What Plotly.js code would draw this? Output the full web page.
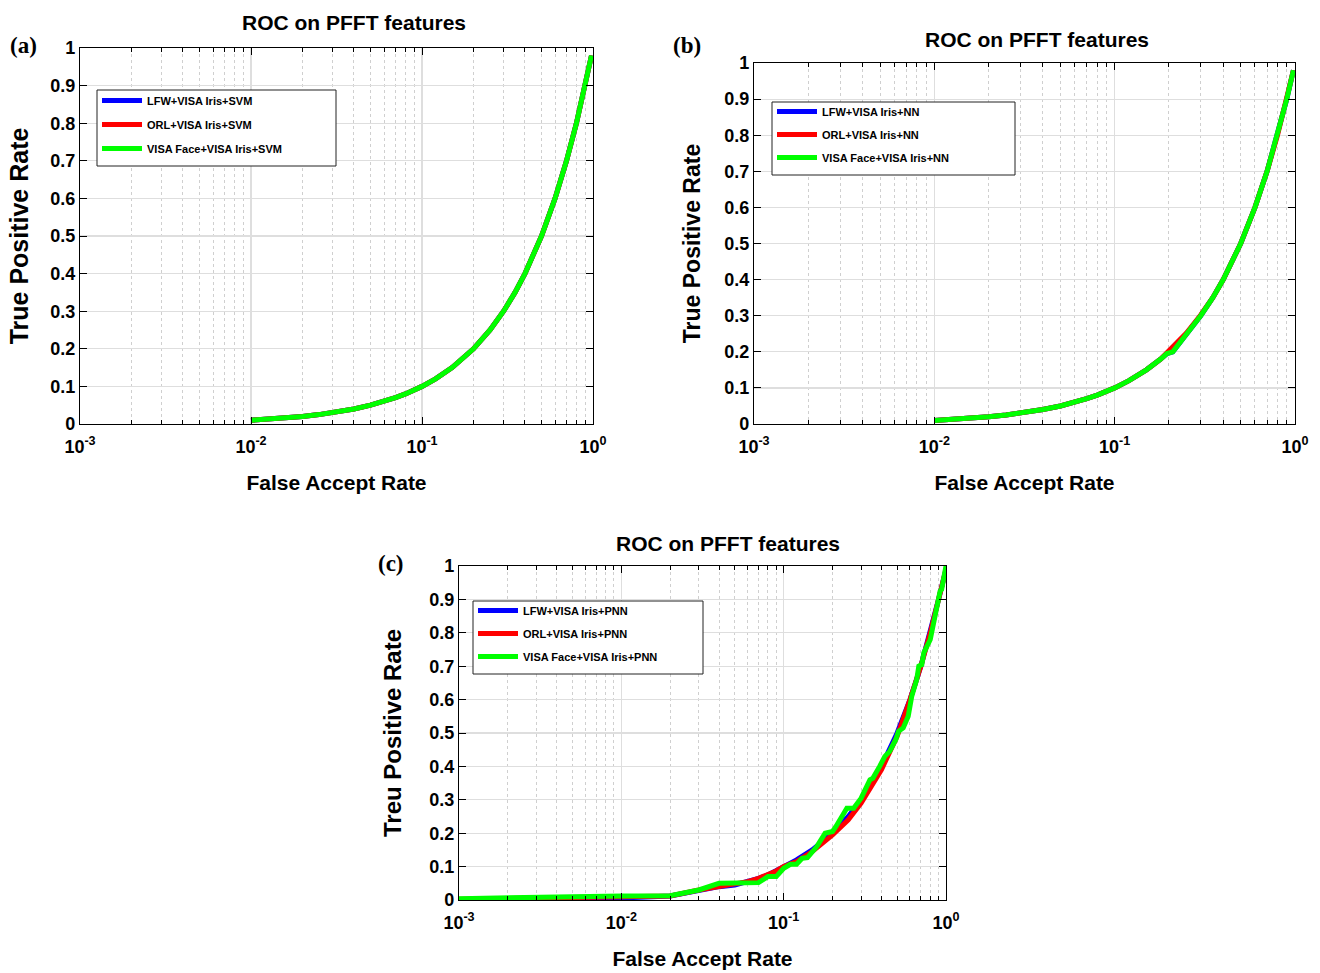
<!DOCTYPE html>
<html><head><meta charset="utf-8">
<script src="https://cdn.plot.ly/plotly-3.0.1.min.js"></script>
<style>html,body{margin:0;padding:0;background:#fff}#chart{width:1320px;height:973px}</style>
</head><body><div id="chart"></div>
<script>
// ---------- DATA ----------
const seriesColors = ['#0000ff', '#ff0000', '#00ff00'];
const namesA = ['LFW+VISA Iris+SVM', 'ORL+VISA Iris+SVM', 'VISA Face+VISA Iris+SVM'];
const namesB = ['LFW+VISA Iris+NN', 'ORL+VISA Iris+NN', 'VISA Face+VISA Iris+NN'];
const namesC = ['LFW+VISA Iris+PNN', 'ORL+VISA Iris+PNN', 'VISA Face+VISA Iris+PNN'];
const xTickVals = [0.001, 0.01, 0.1, 1];
const xTickText = ['10<sup>-3</sup>', '10<sup>-2</sup>', '10<sup>-1</sup>', '10<sup>0</sup>'];

// Panel (a) SVM
const farA = [0.01,0.013,0.016,0.02,0.025,0.03,0.04,0.05,0.06,0.07,0.08,0.09,0.1,0.12,0.15,0.2,0.25,0.3,0.35,0.4,0.5,0.6,0.7,0.8,0.9,0.98];
const tprA_lfw  = [0.01,0.013,0.016,0.02,0.025,0.03,0.04,0.05,0.06,0.07,0.08,0.09,0.1,0.12,0.15,0.2,0.25,0.3,0.35,0.4,0.5,0.6,0.7,0.8,0.9,0.98];
const tprA_orl  = [0.01,0.013,0.016,0.02,0.025,0.03,0.04,0.05,0.06,0.07,0.08,0.09,0.1,0.12,0.15,0.2,0.25,0.3,0.35,0.4,0.5,0.6,0.7,0.8,0.9,0.98];
const tprA_visa = [0.01,0.013,0.016,0.02,0.025,0.03,0.04,0.05,0.06,0.07,0.08,0.09,0.1,0.12,0.15,0.2,0.25,0.3,0.35,0.4,0.5,0.6,0.7,0.8,0.9,0.98];

// Panel (b) NN
const farB = [0.01,0.013,0.016,0.02,0.025,0.03,0.04,0.05,0.06,0.07,0.08,0.09,0.1,0.12,0.15,0.18,0.195,0.21,0.23,0.25,0.3,0.35,0.4,0.5,0.6,0.7,0.8,0.9,0.98];
const tprB_lfw  = [0.01,0.013,0.016,0.02,0.025,0.03,0.04,0.05,0.06,0.07,0.08,0.09,0.1,0.12,0.15,0.18,0.195,0.2,0.225,0.25,0.3,0.35,0.4,0.5,0.6,0.7,0.8,0.9,0.98];
const tprB_orl  = [0.01,0.013,0.016,0.02,0.025,0.03,0.04,0.05,0.06,0.07,0.08,0.09,0.1,0.12,0.15,0.18,0.197,0.212,0.233,0.252,0.302,0.35,0.4,0.5,0.6,0.7,0.8,0.9,0.98];
const tprB_visa = [0.01,0.013,0.016,0.02,0.025,0.03,0.04,0.05,0.06,0.07,0.08,0.09,0.1,0.12,0.15,0.18,0.195,0.2,0.225,0.25,0.3,0.35,0.4,0.5,0.6,0.7,0.8,0.9,0.98];

// Panel (c) PNN
const farC_smooth = [0.001,0.002,0.005,0.01,0.02,0.03,0.04,0.05,0.06,0.07,0.08,0.09,0.1,0.12,0.15,0.2,0.25,0.3,0.4,0.5,0.6,0.7,0.8,0.9,1.0];
const tprC_lfw = [0.001,0.002,0.004,0.006,0.012,0.03,0.04,0.045,0.055,0.065,0.075,0.09,0.1,0.12,0.15,0.2,0.25,0.3,0.4,0.5,0.6,0.7,0.8,0.9,0.99];
const tprC_orl = [0.002,0.004,0.007,0.01,0.012,0.03,0.04,0.045,0.055,0.065,0.075,0.087,0.1,0.115,0.145,0.195,0.24,0.29,0.39,0.49,0.6,0.7,0.8,0.9,0.99];
const farC_visa = [0.001,0.002,0.005,0.01,0.02,0.03,0.04,0.05,0.06,0.07,0.08,0.09,0.1,0.11,0.12,0.13,0.14,0.16,0.18,0.2,0.21,0.22,0.245,0.27,0.3,0.34,0.355,0.39,0.42,0.45,0.49,0.51,0.545,0.585,0.615,0.66,0.68,0.71,0.73,0.8,0.86,0.92,0.94,0.97,1.0];
const tprC_visa = [0.004,0.007,0.01,0.012,0.013,0.03,0.05,0.05,0.05,0.052,0.07,0.07,0.095,0.107,0.107,0.125,0.127,0.16,0.2,0.205,0.22,0.235,0.275,0.275,0.305,0.36,0.365,0.4,0.43,0.445,0.48,0.505,0.515,0.55,0.61,0.66,0.7,0.705,0.74,0.78,0.856,0.925,0.93,0.97,1.0];

// ---------- STYLE ----------
const SANS = 'Liberation Sans, Arial, Helvetica, sans-serif';
const SERIF = 'Liberation Serif, Times New Roman, serif';
const minorVals = [];
[-3, -2, -1].forEach(d => { for (let k = 2; k <= 9; k++) minorVals.push(k * Math.pow(10, d)); });

function xAxis(domain, anchor) {
  return {
    type: 'log', domain: domain, anchor: anchor, range: [-3, 0], automargin: false,
    tickvals: xTickVals, ticktext: xTickText,
    ticks: 'inside', ticklen: 7, tickwidth: 1, tickcolor: '#000',
    showline: true, linecolor: '#000', linewidth: 1.2, mirror: 'ticks',
    showgrid: true, gridcolor: '#dedede', gridwidth: 1.2, zeroline: false,
    minor: { tickvals: minorVals, ticks: 'inside', ticklen: 4, tickcolor: '#000',
             showgrid: true, gridcolor: '#cfcfcf', griddash: 'dot', gridwidth: 1 },
    tickfont: { family: SANS, size: 18, weight: 'bold', color: '#000' },
    ticklabelstandoff: 6,
    title: { text: 'False Accept Rate', font: { family: SANS, size: 21, weight: 'bold', color: '#000' }, standoff: 19 },
    fixedrange: true
  };
}
function yAxis(domain, anchor, label, size, standoff) {
  return {
    domain: domain, anchor: anchor, range: [0, 1], automargin: false,
    tick0: 0, dtick: 0.1,
    ticks: 'inside', ticklen: 7, tickwidth: 1, tickcolor: '#000',
    showline: true, linecolor: '#000', linewidth: 1.2, mirror: 'ticks',
    showgrid: true, gridcolor: '#dedede', gridwidth: 1.2, zeroline: false,
    tickfont: { family: SANS, size: 18, weight: 'bold', color: '#000' },
    title: { text: label, font: { family: SANS, size: size, weight: 'bold', color: '#000' }, standoff: standoff },
    fixedrange: true
  };
}
function legendBox(x, y, gap) {
  return {
    x: x, y: y, xanchor: 'left', yanchor: 'top', xref: 'paper', yref: 'paper',
    bgcolor: 'rgba(0,0,0,0)', borderwidth: 0,
    font: { family: SANS, size: 11, weight: 'bold', color: '#000' },
    tracegroupgap: gap, itemwidth: 40
  };
}

const traces = [];
function addSeries(names, xs, ys, xa, ya, leg, tag) {
  for (let i = 0; i < 3; i++) {
    traces.push({
      type: 'scatter', mode: 'lines', x: xs[i], y: ys[i], name: names[i],
      xaxis: xa, yaxis: ya, legend: leg, legendgroup: tag + i,
      line: { color: seriesColors[i], width: 5 }, hoverinfo: 'skip'
    });
  }
}
addSeries(namesA, [farA, farA, farA], [tprA_lfw, tprA_orl, tprA_visa], 'x', 'y', 'legend', 'a');
addSeries(namesB, [farB, farB, farB], [tprB_lfw, tprB_orl, tprB_visa], 'x2', 'y2', 'legend2', 'b');
addSeries(namesC, [farC_smooth, farC_smooth, farC_visa], [tprC_lfw, tprC_orl, tprC_visa], 'x3', 'y3', 'legend3', 'c');

const W = 1320, H = 973;
const px = v => v / W, py = v => 1 - v / H;

const ann = [];
function titleAnn(x, y, text, font, size) {
  ann.push({ xref: 'paper', yref: 'paper', x: px(x), y: py(y), xanchor: 'center', yanchor: 'middle',
             text: text, showarrow: false, font: { family: font, size: size, weight: 'bold', color: '#000' } });
}
titleAnn(354, 22, 'ROC on PFFT features', SANS, 21);
titleAnn(1037, 39, 'ROC on PFFT features', SANS, 21);
titleAnn(728, 543, 'ROC on PFFT features', SANS, 21);
titleAnn(23, 45, '(a)', SERIF, 23);
titleAnn(687, 45, '(b)', SERIF, 23);
titleAnn(391, 563, '(c)', SERIF, 23);

// legend frames (white box with dark border behind each legend)
function frame(x0, y0, x1, y1) {
  return { type: 'rect', xref: 'paper', yref: 'paper', x0: px(x0), x1: px(x1), y0: py(y1), y1: py(y0),
           fillcolor: '#fff', line: { color: '#222', width: 1 }, layer: 'above' };
}

const layout = {
  width: W, height: H, autosize: false,
  margin: { l: 0, r: 0, t: 0, b: 0, pad: 0 },
  paper_bgcolor: '#fff', plot_bgcolor: '#fff',
  showlegend: true,
  xaxis: xAxis([px(80), px(593)], 'y'),
  yaxis: yAxis([py(424), py(48)], 'x', 'True Positive Rate', 25, 14),
  xaxis2: xAxis([px(754), px(1295)], 'y2'),
  yaxis2: yAxis([py(424), py(63)], 'x2', 'True Positive Rate', 23, 17),
  xaxis3: xAxis([px(459), px(946)], 'y3'),
  yaxis3: yAxis([py(900), py(566)], 'x3', 'Treu Positive Rate', 24, 20),
  legend: legendBox(px(97), py(86), 5),
  legend2: legendBox(px(772), py(97), 4),
  legend3: legendBox(px(473), py(596), 4),
  shapes: [frame(97, 90, 336, 166), frame(772, 102, 1015, 175), frame(473, 601, 703, 674)],
  annotations: ann
};

Plotly.newPlot('chart', traces, layout, { displayModeBar: false, staticPlot: true });
</script>
</body></html>
